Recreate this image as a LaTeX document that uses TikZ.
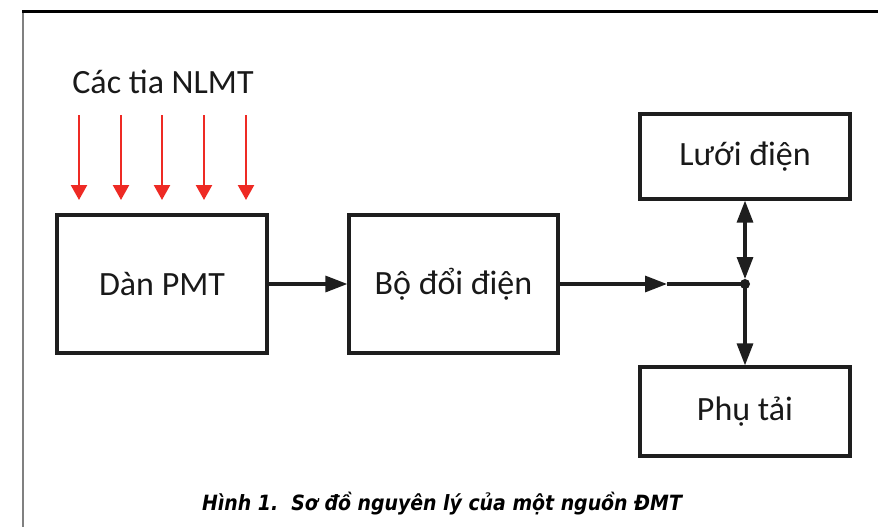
\documentclass[tikz,border=0pt]{standalone}
\usepackage{fontspec}
\setmainfont{Carlito}
\newfontfamily\capfont{DejaVu Sans Condensed}
\usetikzlibrary{arrows.meta}
\definecolor{rayred}{HTML}{EE2A24}
\definecolor{boxline}{HTML}{1E1E1E}
\tikzset{
  blk/.style={draw=boxline, line width=3.2pt, minimum width=210pt, inner sep=0pt,
    font=\fontsize{34}{37}\selectfont, text=black!90},
  conn/.style={draw=boxline, line width=3.2pt},
  arr/.style={conn, -{Triangle[length=22pt,width=16pt]}},
  barr/.style={conn, {Triangle[length=22pt,width=16pt]}-{Triangle[length=22pt,width=16pt]}},
  ray/.style={draw=rayred, line width=2.4pt, -{Triangle[length=15pt,width=16pt]}},
}
\begin{document}
\begin{tikzpicture}[x=1pt,y=-1pt]
\useasboundingbox (0,0) rectangle (878,527);
% frame
\draw[black!50, line width=2.4pt] (23,527) -- (23,11.5);
\draw[black, line width=2.4pt] (22,11.5) -- (878,11.5);
% title
\node[font=\fontsize{34}{37}\selectfont, text=black!90, anchor=base] (title) at (163,93) {Các tia NLMT};
% rays
\foreach \x [count=\i] in {79,121,162,204,246} {
  \coordinate (rs\i) at (\x,115);
  \coordinate (re\i) at (\x,200);
  \draw[ray] (rs\i) -- (re\i);
}
% boxes
\node[blk, minimum height=138pt] (dan) at (162,284) {Dàn PMT};
\node[blk, minimum height=138pt, minimum width=209pt] (bo) at (453.5,284) {Bộ đổi điện};
\node[blk, minimum height=85pt] (luoi) at (745,156.5) {Lưới điện};
\node[blk, minimum height=89pt] (phu) at (745,411.5) {Phụ tải};
% junction
\coordinate (j) at (745,284);
\fill[boxline] (j) circle (5pt);
\coordinate (m) at (667,284);
\coordinate (jt) at (745,279);
% connectors
\draw[arr] (dan.east) -- (bo.west);
\draw[arr] (bo.east) -- (m);
\draw[conn] (m) -- (j);
\draw[barr] (luoi.south) -- (jt);
\draw[arr] (j) -- (phu.north);
% caption
\node[font=\capfont\bfseries\itshape\fontsize{21}{24}\selectfont, anchor=base] (cap) at (442,510) {Hình 1.~~Sơ đồ nguyên lý của một nguồn ĐMT};
\end{tikzpicture}
\end{document}
